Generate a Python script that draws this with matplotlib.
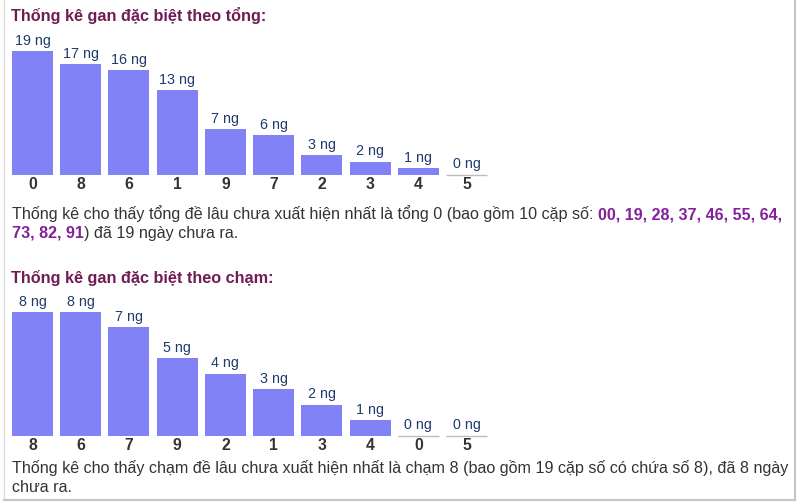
import matplotlib
matplotlib.use("Agg")
import matplotlib.pyplot as plt
from matplotlib.lines import Line2D

plt.rcParams['font.family'] = ['Liberation Sans', 'DejaVu Sans']

# data
tong_labels = ['0', '8', '6', '1', '9', '7', '2', '3', '4', '5']
tong_values = [19, 17, 16, 13, 7, 6, 3, 2, 1, 0]
cham_labels = ['8', '6', '7', '9', '2', '1', '3', '4', '0', '5']
cham_values = [8, 8, 7, 5, 4, 3, 2, 1, 0, 0]

title1 = "Thống kê gan đặc biệt theo tổng:"
title2 = "Thống kê gan đặc biệt theo chạm:"
para1 = [
    [("Thống kê cho thấy tổng đề lâu chưa xuất hiện nhất là tổng 0 (bao gồm 10 cặp số:", 'n'),
     ("00, 19, 28, 37, 46, 55, 64,", 'b')],
    [("73, 82, 91", 'b'), (") đã 19 ngày chưa ra.", 'n', True)],
]
para2 = [
    [("Thống kê cho thấy chạm đề lâu chưa xuất hiện nhất là chạm 8 (bao gồm 19 cặp số có chứa số 8), đã 8 ngày", 'n')],
    [("chưa ra.", 'n')],
]

W, H = 800, 504
BAR = '#8282f7'
TITLE_C = '#701c55'
LBL_C = '#1f3a6b'
TXT_C = '#333333'
PURPLE = '#84219a'
PFS = 11.6

fig = plt.figure(figsize=(W / 100, H / 100), dpi=100)
fig.patch.set_facecolor('white')

pitch = 48.22
bw = 41
half = bw / (2 * pitch)


def chart(labels, values, base_y, px_per_unit, ymax):
    left = 12
    width = 9 * pitch + bw
    ax = fig.add_axes([left / W, (H - base_y) / H, width / W, ymax * px_per_unit / H])
    x = list(range(len(values)))
    ax.bar(x, values, width=2 * half, color=BAR, linewidth=0)
    for i, v in enumerate(values):
        if v == 0:
            ax.hlines(0, i - half, i + half, color='#bdbdbd', linewidth=1, clip_on=False, zorder=3)
        ax.annotate(f"{v} ng", (i, v), xytext=(0, 2.5), textcoords='offset points',
                    ha='center', va='bottom', fontsize=10.3, color=LBL_C)
    ax.set_xlim(-half, len(values) - 1 + half)
    ax.set_ylim(0, ymax)
    ax.set_xticks(x, labels)
    ax.tick_params(axis='x', length=0, pad=1.5, labelsize=11.3, labelcolor=TXT_C)
    for t in ax.get_xticklabels():
        t.set_fontweight('bold')
    ax.set_yticks([])
    for s in ax.spines.values():
        s.set_visible(False)
    ax.patch.set_alpha(0)
    return ax


renderer = fig.canvas.get_renderer()


def width_of(s, **kw):
    t = fig.text(0, 0, s, **kw)
    w = t.get_window_extent(renderer).width
    t.remove()
    return w


def runs(lines, x0, y0, lh):
    for li, line in enumerate(lines):
        x = x0
        y = y0 + li * lh
        for k, seg in enumerate(line):
            s, st = seg[0], seg[1]
            kw = dict(fontsize=PFS, color=TXT_C)
            if st == 'b':
                kw = dict(fontsize=PFS, color=PURPLE, fontweight='bold')
            t = fig.text(x / W, (H - y) / H, s, va='baseline', ha='left', **kw)
            x = t.get_window_extent(renderer).x1
            nxt = line[k + 1] if k + 1 < len(line) else None
            if nxt is not None and len(nxt) < 3:
                x += width_of("x x", **kw) - width_of("xx", **kw)


fig.text(11 / W, (H - 21) / H, title1, fontsize=11.7, fontweight='bold', color=TITLE_C, va='baseline')
chart(tong_labels, tong_values, 174.5, 6.5, 20)
runs(para1, 12, 219, 19)

fig.text(11 / W, (H - 283) / H, title2, fontsize=11.7, fontweight='bold', color=TITLE_C, va='baseline')
chart(cham_labels, cham_values, 435.5, 15.44, 9)
runs(para2, 12, 473, 19)

# page border
fig.add_artist(Line2D([4 / W, 4 / W], [(H - 500) / H, 1], color='#dddddd', linewidth=1))
fig.add_artist(Line2D([795 / W, 795 / W], [(H - 500) / H, 1], color='#c4c4c4', linewidth=1.5))
fig.add_artist(Line2D([4 / W, 795 / W], [(H - 500) / H, (H - 500) / H], color='#c4c4c4', linewidth=1.5))

fig.savefig('out.png', dpi=100, facecolor='white')
